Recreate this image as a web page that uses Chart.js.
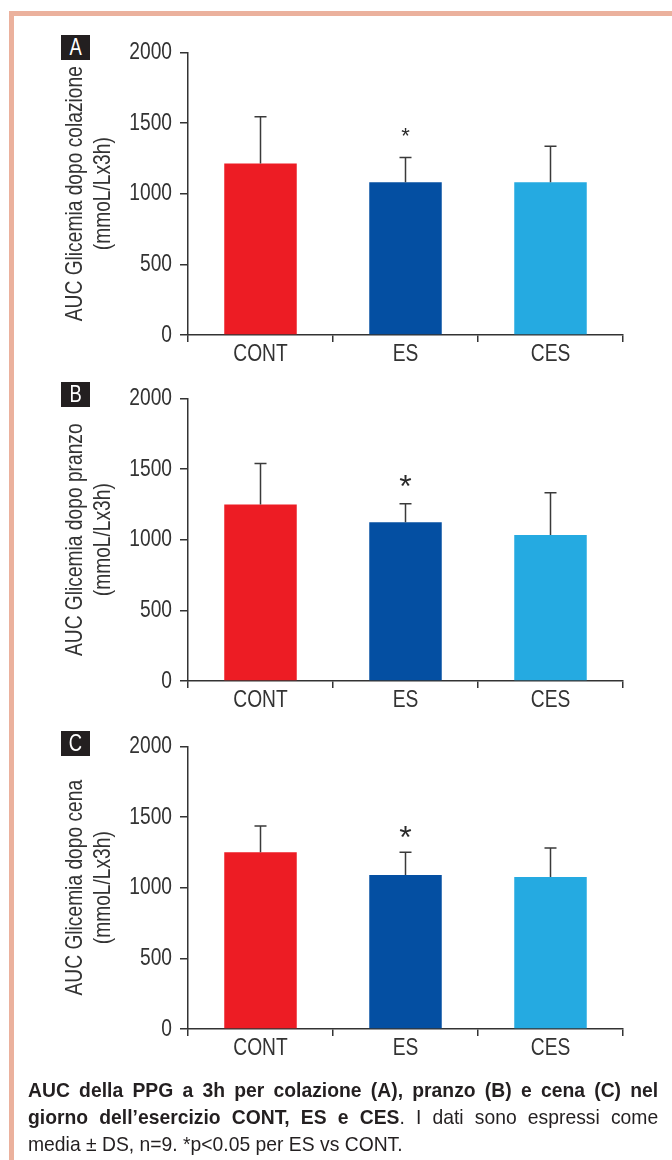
<!DOCTYPE html>
<html>
<head>
<meta charset="utf-8">
<script src="https://cdn.jsdelivr.net/npm/chart.js@4/dist/chart.umd.min.js"></script>
<style>
  body { margin: 0; background: #fff; width: 672px; height: 1160px; position: relative; overflow: hidden;
         font-family: "Liberation Sans", Arial, sans-serif; }
  .frame { position: absolute; left: 9px; top: 11px; right: 0; bottom: 0;
           border-top: 5px solid #ebb19d; border-left: 5px solid #ebb19d; }
  .panel { position: absolute; left: 0; width: 672px; height: 350px; }
  .badge { position: absolute; left: 61px; width: 29px; height: 25px; background: #231f20; color: #fff;
           font-size: 23px; line-height: 25px; text-align: center; overflow: hidden; }
  .badge span { display: inline-block; transform: scaleX(0.8); }
  .caption { position: absolute; left: 28px; width: 685px; top: 1076px; font-size: 21px; line-height: 27px;
             color: #231f20; transform: scaleX(0.92); transform-origin: 0 0; }
  .caption div { text-align: justify; text-align-last: justify; white-space: nowrap; }
  .caption div.last { text-align-last: left; }
</style>
</head>
<body>
<div class="frame"></div>

<div class="panel" style="top:30px"><canvas id="chartA"></canvas></div>
<div class="panel" style="top:376px"><canvas id="chartB"></canvas></div>
<div class="panel" style="top:724px"><canvas id="chartC"></canvas></div>

<div class="badge" style="top:35px"><span>A</span></div>
<div class="badge" style="top:382px"><span>B</span></div>
<div class="badge" style="top:731px"><span>C</span></div>

<div class="caption">
  <div><b>AUC della PPG a 3h per colazione (A), pranzo (B) e cena (C) nel</b></div>
  <div><b>giorno dell’esercizio CONT, ES e CES</b>. I dati sono espressi come</div>
  <div class="last">media ± DS, n=9. *p&lt;0.05 per ES vs CONT.</div>
</div>

<script>
const categories = ["CONT", "ES", "CES"];
const barColors = ["#ed1c24", "#044fa2", "#25aae1"];

// means and SD (mmoL/Lx3h)
const colazioneMean = [1214, 1081, 1081];
const colazioneSD = [330, 175, 254];
const pranzoMean = [1250, 1124, 1033];
const pranzoSD = [290, 131, 299];
const cenaMean = [1251, 1090, 1076];
const cenaSD = [185, 161, 205];

const significance = ["", "*", ""]; // ES vs CONT

const yTicks = [0, 500, 1000, 1500, 2000];

const FONT = "'Liberation Sans', Arial, sans-serif";
const INK = "#333333";

// condensed look: squeeze every text drawn on the canvas horizontally
function narrowText(canvas, k) {
  const ctx = canvas.getContext("2d");
  const fill = ctx.fillText.bind(ctx);
  ctx.rawFillText = fill;
  ctx.fillText = function (text, x, y, maxWidth) {
    this.save();
    this.translate(x, y);
    this.scale(k, 1);
    if (maxWidth === undefined) fill(text, 0, 0);
    else fill(text, 0, 0, maxWidth / k);
    this.restore();
  };
}

// draws SD whiskers (upper half) and the significance star
const errorBars = {
  id: "errorBars",
  afterDatasetsDraw(chart, args, opts) {
    const ctx = chart.ctx;
    const y = chart.scales.y;
    const meta = chart.getDatasetMeta(0);
    ctx.save();
    ctx.strokeStyle = "#3a3a3a";
    ctx.lineWidth = 1.5;
    meta.data.forEach((bar, i) => {
      const top = y.getPixelForValue(opts.means[i] + opts.sd[i]);
      ctx.beginPath();
      ctx.moveTo(bar.x, bar.y);
      ctx.lineTo(bar.x, top);
      ctx.moveTo(bar.x - 6, top);
      ctx.lineTo(bar.x + 6, top);
      ctx.stroke();
      if (opts.stars[i]) {
        ctx.fillStyle = "#2a2a2a";
        ctx.font = opts.starSize + "px " + FONT;
        ctx.textAlign = "center";
        ctx.textBaseline = "alphabetic";
        ctx.rawFillText(opts.stars[i], bar.x, top - opts.starGap);
      }
    });
    ctx.restore();
  }
};

function makeChart(id, means, sd, title, starSize, starGap) {
  const canvas = document.getElementById(id);
  canvas.width = 672; canvas.height = 350;
  canvas.style.width = "672px"; canvas.style.height = "350px";
  narrowText(canvas, 0.8);
  return new Chart(canvas, {
    type: "bar",
    data: {
      labels: categories,
      datasets: [{
        data: means,
        backgroundColor: barColors,
        borderWidth: 0,
        categoryPercentage: 1,
        barPercentage: 0.5
      }]
    },
    options: {
      responsive: false,
      animation: false,
      devicePixelRatio: 1,
      layout: { padding: { top: 20, right: 49, left: 0, bottom: 0 } },
      plugins: {
        legend: { display: false },
        tooltip: { enabled: false },
        errorBars: { means: means, sd: sd, stars: significance, starSize: starSize, starGap: starGap }
      },
      scales: {
        x: {
          grid: { offset: true, drawOnChartArea: false, drawTicks: true, tickLength: 7, color: INK, lineWidth: 1.5 },
          border: { display: true, color: INK, width: 1.5 },
          ticks: { color: INK, padding: -2, font: { family: FONT, size: 24 } },
          afterFit: (s) => { s.height = 45; }
        },
        y: {
          min: 0,
          max: 2000,
          afterBuildTicks: (s) => { s.ticks = yTicks.map(v => ({ value: v })); },
          grid: { drawOnChartArea: false, drawTicks: true, tickLength: 8, color: INK, lineWidth: 1.5 },
          border: { display: true, color: INK, width: 1.5 },
          ticks: { color: INK, padding: 8, font: { family: FONT, size: 24 }, callback: (v) => String(v) },
          title: {
            display: true,
            text: title,
            color: INK,
            padding: { top: 61, bottom: 0 },
            font: { family: FONT, size: 24, lineHeight: 1.1667 }
          },
          afterFit: (s) => { s.width = 188; }
        }
      }
    },
    plugins: [errorBars]
  });
}

makeChart("chartA", colazioneMean, colazioneSD, ["AUC Glicemia dopo colazione", "(mmoL/Lx3h)"], 22, 15);
makeChart("chartB", pranzoMean, pranzoSD, ["AUC Glicemia dopo pranzo", "(mmoL/Lx3h)"], 32, 7);
makeChart("chartC", cenaMean, cenaSD, ["AUC Glicemia dopo cena", "(mmoL/Lx3h)"], 32, 4);
</script>
</body>
</html>
